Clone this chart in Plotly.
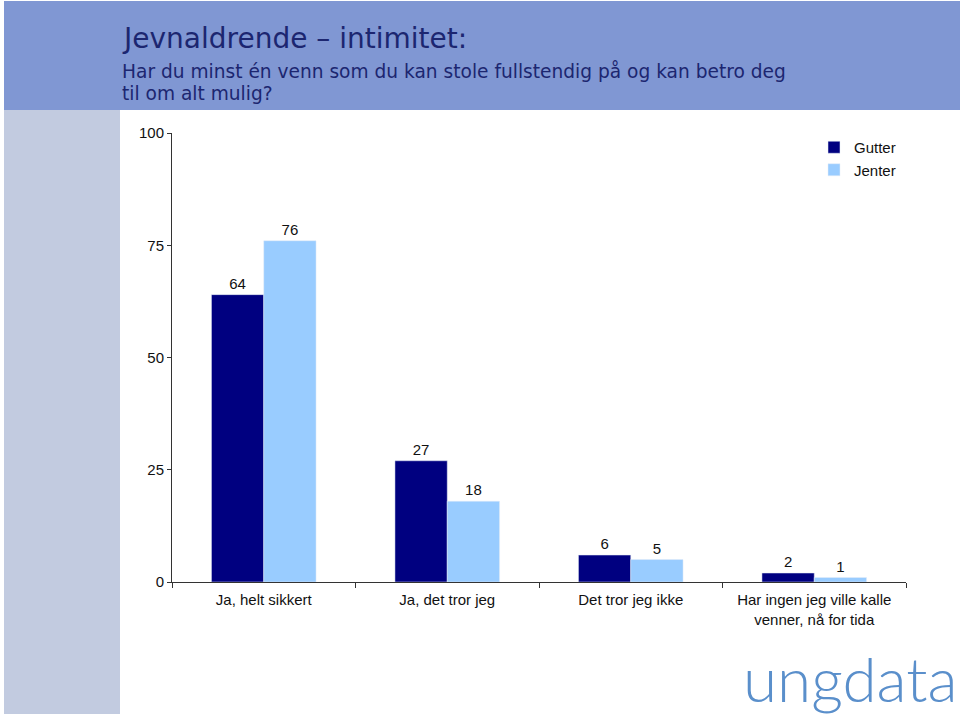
import plotly.graph_objects as go

categories = ["Ja, helt sikkert", "Ja, det tror jeg", "Det tror jeg ikke",
              "Har ingen jeg ville kalle<br>venner, nå for tida"]
gutter = [64, 27, 6, 2]
jenter = [76, 18, 5, 1]
yticks = [0, 25, 50, 75, 100]

W, H = 960, 716
L, R, T, B = 172, 906, 133, 582

def px(x):
    return (x - L) / (R - L)

def py(y):
    return (B - y) / (B - T)

fig = go.Figure()
fig.add_trace(go.Bar(name="Gutter", x=categories, y=gutter, marker_color="#000080",
                     text=gutter, textposition="outside",
                     textfont=dict(size=15, color="#111", family="Liberation Sans"),
                     cliponaxis=False))
fig.add_trace(go.Bar(name="Jenter", x=categories, y=jenter, marker_color="#99ccff",
                     text=jenter, textposition="outside",
                     textfont=dict(size=15, color="#111", family="Liberation Sans"),
                     cliponaxis=False))

shapes = [
    dict(type="rect", xref="paper", yref="paper", x0=px(4), x1=px(960), y0=py(110), y1=py(1),
         fillcolor="#8097d3", line_width=0, layer="below"),
    dict(type="rect", xref="paper", yref="paper", x0=px(4), x1=px(120), y0=py(714), y1=py(110),
         fillcolor="#c2cbe0", line_width=0, layer="below"),
]

annotations = [
    dict(text="Jevnaldrende – intimitet:", xref="paper", yref="paper", x=px(120), y=py(39),
         xanchor="left", yanchor="middle", showarrow=False,
         font=dict(family="DejaVu Sans", size=28, color="#1c2670")),
    dict(text="Har du minst én venn som du kan stole fullstendig på og kan betro deg",
         xref="paper", yref="paper", x=px(120), y=py(71),
         xanchor="left", yanchor="middle", showarrow=False,
         font=dict(family="DejaVu Sans", size=18.6, color="#1c2670")),
    dict(text="til om alt mulig?",
         xref="paper", yref="paper", x=px(120), y=py(93),
         xanchor="left", yanchor="middle", showarrow=False,
         font=dict(family="DejaVu Sans", size=18.6, color="#1c2670")),
    dict(text="ungdata", xref="paper", yref="paper", x=px(850), y=py(678),
         xanchor="center", yanchor="middle", showarrow=False,
         font=dict(family="Lato", size=62, color="#5a8fcb", weight=300)),
]

fig.update_layout(
    width=W, height=H,
    margin=dict(l=L, r=W - R, t=T, b=H - B, pad=0),
    paper_bgcolor="white", plot_bgcolor="white",
    barmode="group", bargap=0.43, bargroupgap=0,
    showlegend=True,
    legend=dict(x=px(814), y=py(131), xanchor="left", yanchor="top",
                font=dict(family="Liberation Sans", size=15, color="#111"),
                bgcolor="rgba(0,0,0,0)", itemwidth=30, tracegroupgap=0),
    shapes=shapes,
    annotations=annotations,
    font=dict(family="Liberation Sans", size=15, color="#111"),
)
fig.update_yaxes(range=[0, 100], tickvals=yticks, ticks="outside", ticklen=4,
                 showline=True, linecolor="#333", linewidth=1, tickcolor="#333",
                 showgrid=False, zeroline=False,
                 tickfont=dict(family="Liberation Sans", size=15, color="#111"))
fig.update_xaxes(showline=True, linecolor="#333", linewidth=1, ticks="outside",
                 tickson="boundaries", ticklen=5, tickcolor="#333", showgrid=False,
                 ticklabelstandoff=4,
                 tickfont=dict(family="Liberation Sans", size=15, color="#111"))

fig.write_html("out.html", config={"displayModeBar": False},
               post_script="document.body.style.margin='0';document.body.style.overflow='hidden';")
